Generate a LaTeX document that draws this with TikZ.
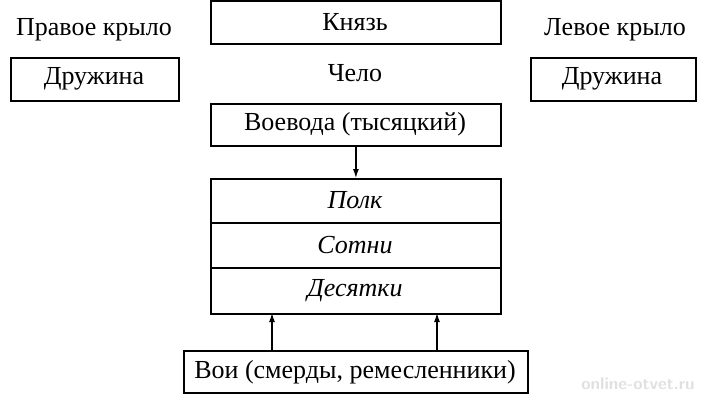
\documentclass[tikz,border=0pt]{standalone}
\usepackage{fontspec}
\usetikzlibrary{arrows.meta}
\setmainfont{Liberation Serif}
\begin{document}
\begin{tikzpicture}[x=1pt,y=-1pt,
  bx/.style={draw,line width=1.8pt,anchor=north west,inner sep=0pt},
  lbl/.style={font=\fontsize{26}{30}\selectfont},
  ilbl/.style={font=\fontsize{26}{30}\selectfont\itshape},
  arr/.style={-{Latex[length=9pt,width=6pt]},line width=1.2pt}]
\useasboundingbox (0,0) rectangle (705,400);
\node[bx,minimum width=290pt,minimum height=43pt] (knyaz) at (210,0) {};
\node[lbl] at (355,22) {Князь};
\node[lbl] (pk) at (94,30) {Правое крыло};
\node[lbl] (lk) at (615,30) {Левое крыло};
\node[bx,minimum width=168pt,minimum height=43pt] (d1) at (10,57) {};
\node[lbl] at (94,79) {Дружина};
\node[bx,minimum width=165pt,minimum height=43pt] (d2) at (530,57) {};
\node[lbl] at (612,79) {Дружина};
\node[lbl] (chelo) at (355,73) {Чело};
\node[bx,minimum width=290pt,minimum height=42pt] (voev) at (210,103) {};
\node[lbl] at (355,124) {Воевода (тысяцкий)};
\node[bx,minimum width=290pt,minimum height=135pt] (stack) at (210,178) {};
\draw[line width=1.8pt] (210,223) -- (500,223) (210,268) -- (500,268);
\node[ilbl] at (355,200) {Полк};
\node[ilbl] at (355,245) {Сотни};
\node[ilbl] at (355,291) {Десятки};
\node[bx,minimum width=344pt,minimum height=42pt] (voi) at (183,350) {};
\node[lbl] at (355,372) {Вои (смерды, ремесленники)};
\draw[arr] (voev.south) -- (stack.north);
\coordinate (a1) at (272,350); \coordinate (b1) at (272,313);
\coordinate (a2) at (437,350); \coordinate (b2) at (437,313);
\draw[arr] (a1) -- (b1);
\draw[arr] (a2) -- (b2);
\node[font=\fontsize{17}{20}\selectfont\sffamily\bfseries,text=black!12] at (638,384) {online-otvet.ru};
\end{tikzpicture}
\end{document}
